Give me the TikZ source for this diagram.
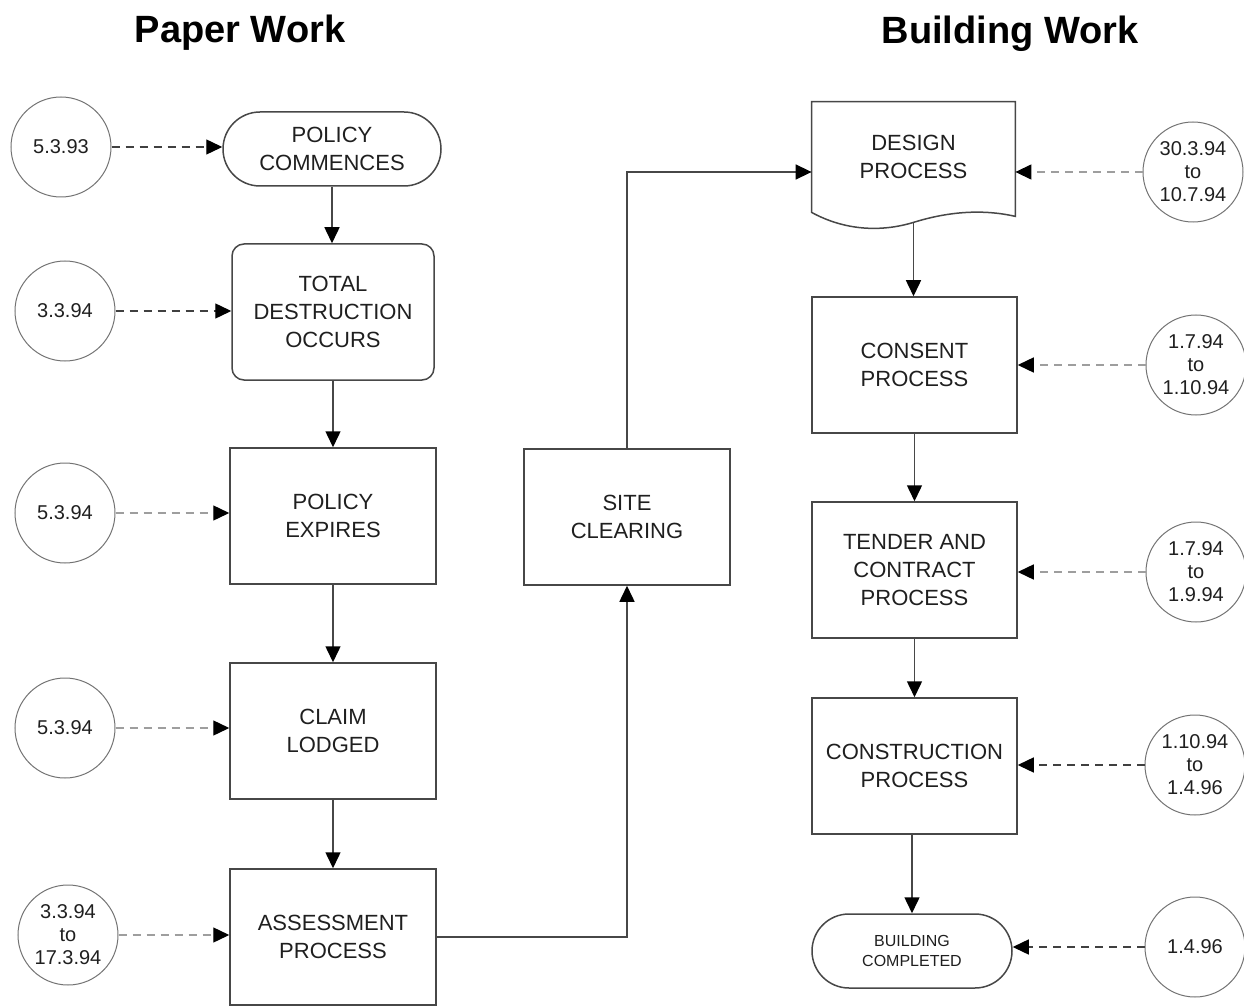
\documentclass[tikz,border=0pt]{standalone}
\usepackage{fontspec}
\setmainfont{Liberation Sans}
\usetikzlibrary{arrows.meta,shapes.misc,calc}
\begin{document}
\begin{tikzpicture}[x=0.5pt,y=-0.5pt,
  every node/.style={inner sep=0pt, align=center, text=black!88},
  boxline/.style={draw=black!72, line width=0.75pt},
  procbox/.style={boxline, rectangle, minimum width=103pt, minimum height=68pt,
    font=\fontsize{11}{14}\selectfont},
  roundbox/.style={procbox, rounded corners=6pt},
  termbox/.style={boxline, rounded rectangle, minimum height=37pt,
    font=\fontsize{11}{14}\selectfont},
  datecirc/.style={circle, draw=black!55, line width=0.5pt, minimum size=50pt,
    font=\fontsize{10}{11.5}\selectfont},
  title/.style={font=\fontsize{19}{22}\selectfont\bfseries, text=black},
  flow/.style={boxline, -{Triangle[length=8pt,width=7.5pt,color=black]}},
  datelink/.style={line width=0.7pt, dash pattern=on 4pt off 3pt,
    -{Triangle[length=8pt,width=7.5pt,color=black]}},
  darklink/.style={datelink, draw=black!75},
  greylink/.style={datelink, draw=black!38},
]
\useasboundingbox (0,0) rectangle (1244,1006);

% headings
\node[title] (tpaper) at (240,33) {Paper Work};
\node[title] (tbuild) at (1010,34) {Building Work};

% paper work column
\node[termbox, minimum width=109pt] (commence) at (332,149) {POLICY\\COMMENCES};
\node[roundbox, minimum width=101pt] (destroy) at (333,312) {TOTAL\\DESTRUCTION\\OCCURS};
\node[procbox] (expire) at (333,516) {POLICY\\EXPIRES};
\node[procbox] (claim) at (333,731) {CLAIM\\LODGED};
\node[procbox] (assess) at (333,937) {ASSESSMENT\\PROCESS};

% middle step
\node[procbox] (site) at (627,517) {SITE\\CLEARING};

% building work column
\node[rectangle, minimum width=101.5pt, minimum height=55pt,
  font=\fontsize{11}{14}\selectfont] (design) at (913.5,157) {DESIGN\\PROCESS};
\draw[boxline] (design.south west)
  .. controls +(33,18) and +(-33,10) .. ($(design.south)+(0,10)$)
  .. controls +(32,-10) and +(-35,-8) .. ($(design.south east)+(0,4)$)
  -- (design.north east) -- (design.north west) -- cycle;
\coordinate (designbot) at ($(design.south)+(0,10)$);
\node[procbox, minimum width=102.5pt] (consent) at (914.5,365) {CONSENT\\PROCESS};
\node[procbox, minimum width=102.5pt] (tender) at (914.5,570) {TENDER AND\\CONTRACT\\PROCESS};
\node[procbox, minimum width=102.5pt] (construct) at (914.5,766) {CONSTRUCTION\\PROCESS};
\node[termbox, minimum width=100pt, font=\fontsize{8}{10}\selectfont] (done) at (912,951) {BUILDING\\COMPLETED};

% dates, paper work
\node[datecirc] (p1) at (61,147) {5.3.93};
\node[datecirc] (p2) at (65,311) {3.3.94};
\node[datecirc] (p3) at (65,513) {5.3.94};
\node[datecirc] (p4) at (65,728) {5.3.94};
\node[datecirc] (p5) at (68,935) {3.3.94\\to\\17.3.94};

% dates, building work
\node[datecirc] (b1) at (1193,172) {30.3.94\\to\\10.7.94};
\node[datecirc] (b2) at (1196,365) {1.7.94\\to\\1.10.94};
\node[datecirc] (b3) at (1196,572) {1.7.94\\to\\1.9.94};
\node[datecirc] (b4) at (1195,765) {1.10.94\\to\\1.4.96};
\node[datecirc] (b5) at (1195,947) {1.4.96};

% process flow
\draw[flow] (commence.south) -- (commence.south |- destroy.north);
\draw[flow] (destroy) -- (expire);
\draw[flow] (expire) -- (claim);
\draw[flow] (claim) -- (assess);
\draw[flow] (assess.east) -| (site.south);
\draw[flow] (site.north) |- (design.west |- b1.center);
\draw[flow] (designbot) -- (designbot |- consent.north);
\draw[flow] (consent) -- (tender);
\draw[flow] (tender) -- (construct);
\draw[flow] (done.north |- construct.south) -- (done.north);

% date links
\draw[darklink] (p1.east) -- (p1.east -| commence.west);
\draw[darklink] (p2.east) -- (p2.east -| destroy.west);
\draw[greylink] (p3.east) -- (p3.east -| expire.west);
\draw[greylink] (p4.east) -- (p4.east -| claim.west);
\draw[greylink] (p5.east) -- (p5.east -| assess.west);
\draw[greylink] (b1.west) -- (b1.west -| design.east);
\draw[greylink] (b2.west) -- (b2.west -| consent.east);
\draw[greylink] (b3.west) -- (b3.west -| tender.east);
\draw[darklink] (b4.west) -- (b4.west -| construct.east);
\draw[darklink] (b5.west) -- (b5.west -| done.east);
\end{tikzpicture}
\end{document}
